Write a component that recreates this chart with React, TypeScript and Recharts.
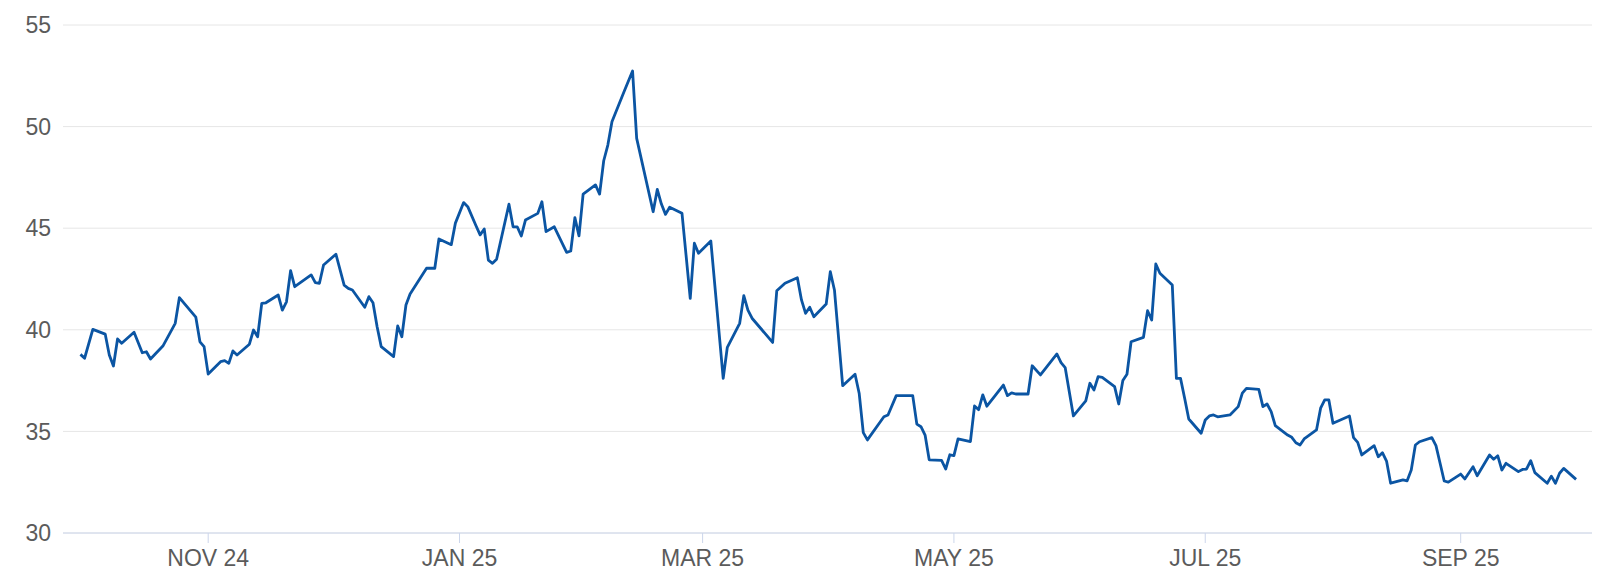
import React from "react";
import { LineChart, Line, XAxis, YAxis, CartesianGrid } from "recharts";

const dates: string[] = [
  "2024-10-01","2024-10-02","2024-10-04","2024-10-07","2024-10-08","2024-10-09","2024-10-10","2024-10-11",
  "2024-10-14","2024-10-16","2024-10-17","2024-10-18","2024-10-21","2024-10-24","2024-10-25","2024-10-29",
  "2024-10-30","2024-10-31","2024-11-01","2024-11-04","2024-11-05","2024-11-06","2024-11-07","2024-11-08",
  "2024-11-11","2024-11-12","2024-11-13","2024-11-14","2024-11-15","2024-11-18","2024-11-19","2024-11-20",
  "2024-11-21","2024-11-22","2024-11-26","2024-11-27","2024-11-28","2024-11-29","2024-12-02","2024-12-04",
  "2024-12-05","2024-12-06","2024-12-09","2024-12-10","2024-12-11","2024-12-12","2024-12-13","2024-12-16",
  "2024-12-17","2024-12-18","2024-12-19","2024-12-20","2024-12-24","2024-12-26","2024-12-27","2024-12-30",
  "2024-12-31","2025-01-02","2025-01-03","2025-01-05","2025-01-06","2025-01-07","2025-01-08","2025-01-09",
  "2025-01-10","2025-01-13","2025-01-14","2025-01-15","2025-01-16","2025-01-17","2025-01-20","2025-01-21",
  "2025-01-22","2025-01-24","2025-01-27","2025-01-28","2025-01-29","2025-01-30","2025-01-31","2025-02-03",
  "2025-02-04","2025-02-05","2025-02-06","2025-02-07","2025-02-10","2025-02-12","2025-02-13","2025-02-17",
  "2025-02-18","2025-02-19","2025-02-20","2025-02-21","2025-02-24","2025-02-26","2025-02-27","2025-02-28",
  "2025-03-03","2025-03-06","2025-03-07","2025-03-10","2025-03-11","2025-03-12","2025-03-13","2025-03-18",
  "2025-03-19","2025-03-21","2025-03-24","2025-03-25","2025-03-26","2025-03-27","2025-03-28","2025-03-31",
  "2025-04-01","2025-04-02","2025-04-04","2025-04-07","2025-04-08","2025-04-09","2025-04-10","2025-04-14",
  "2025-04-15","2025-04-17","2025-04-21","2025-04-22","2025-04-23","2025-04-24","2025-04-25","2025-04-28",
  "2025-04-29","2025-04-30","2025-05-01","2025-05-02","2025-05-05","2025-05-06","2025-05-07","2025-05-08",
  "2025-05-09","2025-05-13","2025-05-14","2025-05-15","2025-05-16","2025-05-19","2025-05-20","2025-05-22",
  "2025-05-26","2025-05-27","2025-05-28","2025-05-30","2025-06-02","2025-06-03","2025-06-04","2025-06-05",
  "2025-06-06","2025-06-09","2025-06-10","2025-06-11","2025-06-12","2025-06-13","2025-06-16","2025-06-17",
  "2025-06-18","2025-06-19","2025-06-20","2025-06-23","2025-06-24","2025-06-25","2025-06-26","2025-06-27",
  "2025-06-30","2025-07-01","2025-07-02","2025-07-03","2025-07-04","2025-07-07","2025-07-09","2025-07-10",
  "2025-07-11","2025-07-14","2025-07-15","2025-07-16","2025-07-17","2025-07-18","2025-07-21","2025-07-22",
  "2025-07-23","2025-07-24","2025-07-25","2025-07-28","2025-07-29","2025-07-30","2025-07-31","2025-08-01",
  "2025-08-05","2025-08-06","2025-08-07","2025-08-08","2025-08-11","2025-08-12","2025-08-13","2025-08-14",
  "2025-08-15","2025-08-18","2025-08-19","2025-08-20","2025-08-21","2025-08-22","2025-08-25","2025-08-26",
  "2025-08-27","2025-08-28","2025-08-29","2025-09-01","2025-09-02","2025-09-04","2025-09-05","2025-09-08",
  "2025-09-09","2025-09-10","2025-09-11","2025-09-12","2025-09-15","2025-09-16","2025-09-17","2025-09-18",
  "2025-09-19","2025-09-22","2025-09-23","2025-09-24","2025-09-25","2025-09-26","2025-09-29",
];

const values: number[] = [
  38.79,38.6,40.02,39.79,38.76,38.22,39.55,39.34,
  39.88,38.87,38.92,38.56,39.2,40.32,41.58,40.62,
  39.41,39.17,37.82,38.43,38.48,38.35,38.96,38.76,
  39.29,39.99,39.66,41.3,41.33,41.71,40.97,41.38,
  42.91,42.12,42.7,42.32,42.29,43.19,43.72,42.2,
  42.04,41.96,41.11,41.63,41.33,40.15,39.17,38.68,
  40.19,39.66,41.22,41.76,43.03,43.03,44.47,44.19,
  45.25,46.26,46.06,45.12,44.67,44.96,43.43,43.27,
  43.47,46.18,45.07,45.07,44.62,45.4,45.73,46.3,
  44.83,45.07,43.81,43.88,45.52,44.62,46.68,47.13,
  46.68,48.32,49.09,50.24,51.75,52.74,49.42,45.81,
  46.91,46.19,45.68,46.03,45.73,41.55,44.26,43.77,
  44.37,37.61,39.14,40.32,41.68,40.97,40.57,39.38,
  41.92,42.29,42.56,41.47,40.81,41.11,40.64,41.27,
  42.86,41.96,37.25,37.81,36.88,34.94,34.58,35.72,
  35.81,36.76,36.76,35.36,35.23,34.82,33.6,33.57,
  33.15,33.85,33.81,34.63,34.5,36.25,36.07,36.8,
  36.24,37.28,36.76,36.9,36.84,36.84,38.23,37.78,
  38.81,38.38,38.14,35.76,36.5,37.37,37.04,37.69,
  37.66,37.2,36.35,37.5,37.81,39.41,39.63,40.94,
  40.48,43.24,42.78,42.2,37.61,37.61,36.63,35.61,
  34.91,35.56,35.76,35.81,35.72,35.81,36.22,36.88,
  37.12,37.07,36.22,36.35,35.97,35.28,34.82,34.71,
  34.44,34.33,34.63,35.07,36.14,36.55,36.55,35.4,
  35.76,34.69,34.46,33.84,34.3,33.75,33.95,33.54,
  32.45,32.61,32.57,33.1,34.33,34.49,34.69,34.3,
  33.43,32.56,32.5,32.9,32.66,33.26,32.82,33.84,
  33.63,33.8,33.1,33.43,33.02,33.13,33.15,33.56,
  32.97,32.45,32.8,32.45,32.94,33.18,32.64,
];

const tickDates: string[] = ["2024-11-01","2025-01-01","2025-03-01","2025-05-01","2025-07-01","2025-09-01"];
const tickLabels: string[] = ["NOV 24","JAN 25","MAR 25","MAY 25","JUL 25","SEP 25"];
const yTicks: number[] = [30, 35, 40, 45, 50, 55];

const toTs = (d: string) => Date.parse(d + "T00:00:00Z");
const data = dates.map((d, i) => ({ t: toTs(d), v: values[i] }));
const xTicks = tickDates.map(toTs);
const DAY = 86400000;
const xDomain: [number, number] = [toTs("2024-11-01") - 35.24 * DAY, toTs("2024-11-01") + 335.87 * DAY];

const FONT = "'Liberation Sans', Arial, sans-serif";

export default function App() {
  return (
    <div style={{ width: 1584, height: 572 }}>
      <LineChart width={1584} height={572} data={data} margin={{ top: 17, right: 0, bottom: 17, left: 0 }}>
        <CartesianGrid vertical={false} stroke="#e6e6e6" strokeWidth={1} />
        <XAxis
          dataKey="t"
          type="number"
          domain={xDomain}
          ticks={xTicks}
          allowDataOverflow
          tickFormatter={(t: number) => tickLabels[xTicks.indexOf(t)] ?? ""}
          height={30}
          axisLine={{ stroke: "#ccd6eb", strokeWidth: 1 }}
          tickLine={{ stroke: "#ccd6eb", strokeWidth: 1 }}
          tickSize={10}
          tickMargin={7}
          tick={{ fill: "#5b5b5b", fontSize: 23, fontFamily: FONT }}
        />
        <YAxis
          type="number"
          domain={[30, 55]}
          ticks={yTicks}
          width={55}
          axisLine={false}
          tickLine={false}
          tickSize={0}
          tickMargin={12}
          tick={{ fill: "#5b5b5b", fontSize: 23, fontFamily: FONT }}
        />
        <Line
          type="linear"
          dataKey="v"
          stroke="#0b55a3"
          strokeWidth={2.8}
          dot={false}
          activeDot={false}
          isAnimationActive={false}
          strokeLinejoin="round"
        />
      </LineChart>
    </div>
  );
}
